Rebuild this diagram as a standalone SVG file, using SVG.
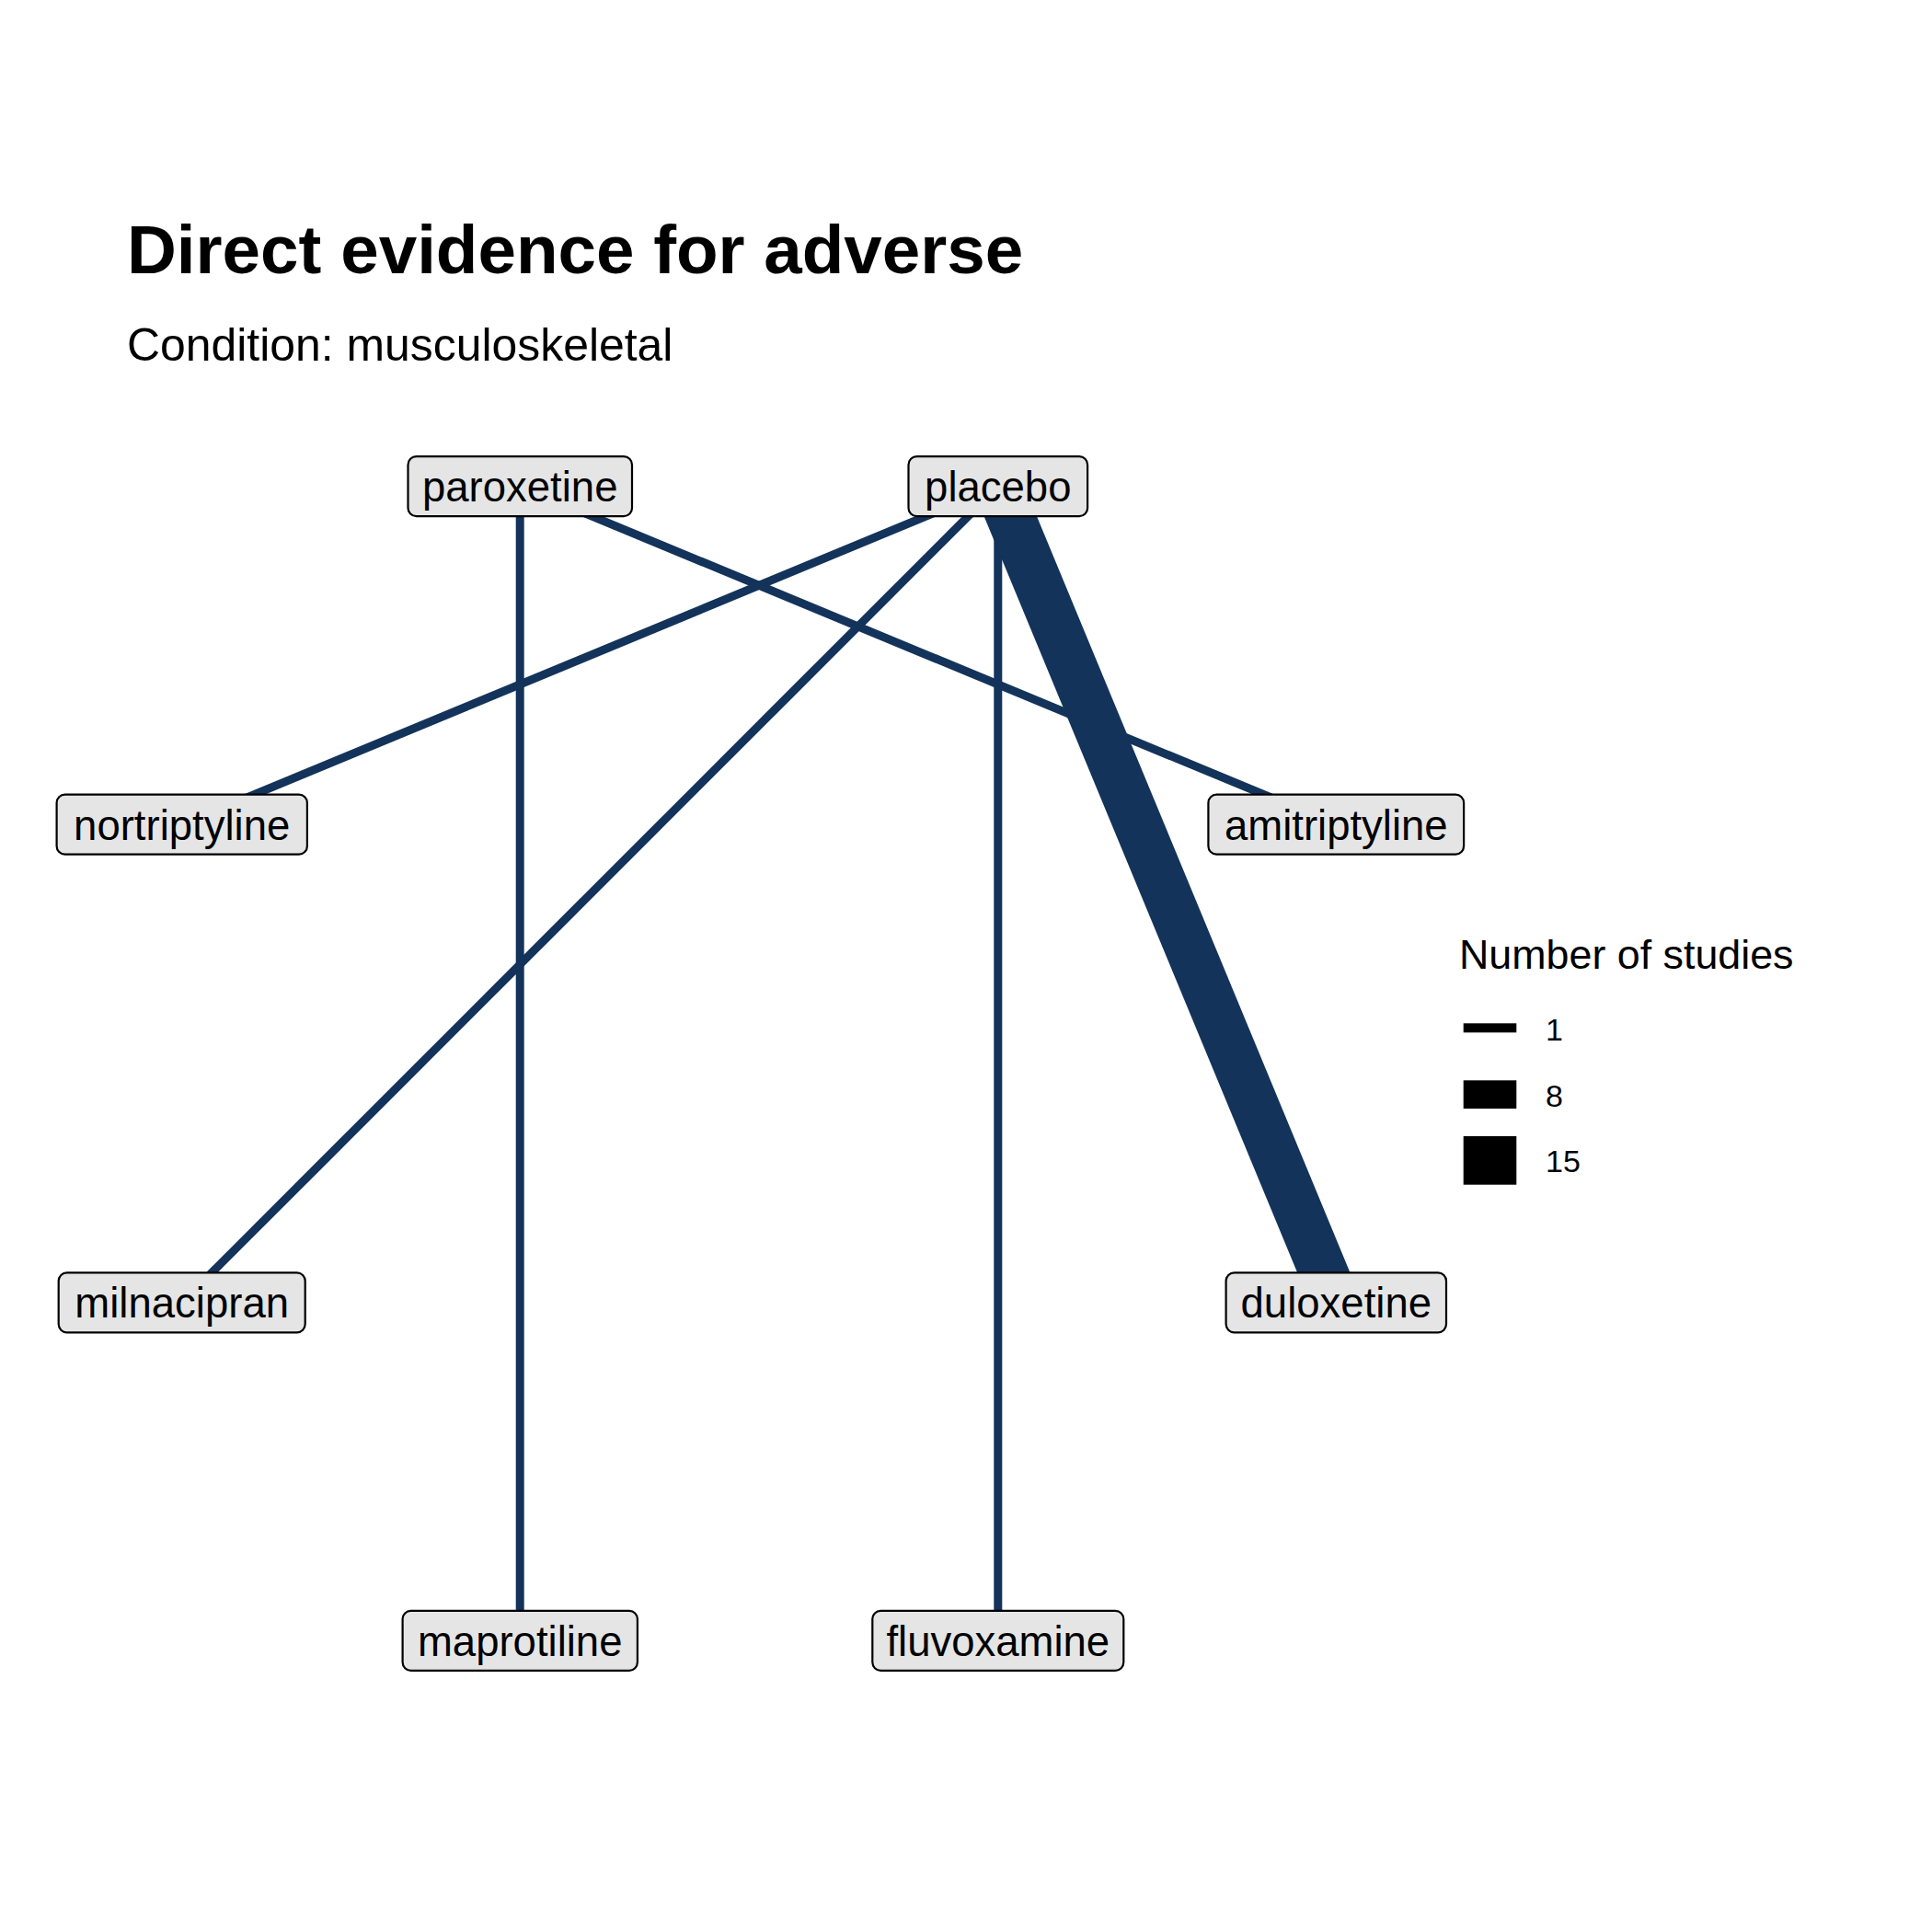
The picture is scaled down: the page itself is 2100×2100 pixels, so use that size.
<svg xmlns="http://www.w3.org/2000/svg" width="2100" height="2100" viewBox="0 0 2100 2100">
<style>
.edge{stroke:#13335a;fill:none;stroke-linecap:butt}
.box{fill:#e5e5e5;stroke:#000;stroke-width:2.2}
.lbl{font-family:"Liberation Sans",Arial,sans-serif;font-size:45.5px;fill:#000;text-anchor:middle}
.title{font-family:"Liberation Sans",Arial,sans-serif;font-size:74.6px;font-weight:bold;fill:#000}
.sub{font-family:"Liberation Sans",Arial,sans-serif;font-size:49.9px;fill:#000}
.legt{font-family:"Liberation Sans",Arial,sans-serif;font-size:44.8px;fill:#000}
.legl{font-family:"Liberation Sans",Arial,sans-serif;font-size:34px;fill:#000}
</style>
<rect width="2100" height="2100" fill="#fff"/>
<text class="title" x="138" y="297">Direct evidence for adverse</text>
<text class="sub" x="138" y="392">Condition: musculoskeletal</text>
<g id="connectors">
<line class="edge" stroke-width="9" x1="565.2" y1="528.7" x2="565.2" y2="1783.3"/>
<line class="edge" stroke-width="9" x1="565.2" y1="528.7" x2="1452.3" y2="896.2"/>
<line class="edge" stroke-width="9" x1="1084.8" y1="528.7" x2="197.7" y2="896.2"/>
<line class="edge" stroke-width="9" x1="1084.8" y1="528.7" x2="197.7" y2="1415.8"/>
<line class="edge" stroke-width="9" x1="1084.8" y1="528.7" x2="1084.8" y2="1783.3"/>
<line class="edge" stroke-width="53" x1="1084.8" y1="528.7" x2="1452.3" y2="1415.8"/>
</g>
<g id="node-paroxetine"><rect class="box" x="443.5" y="496.2" width="243.5" height="65" rx="9"/><text class="lbl" x="565.2" y="545">paroxetine</text></g>
<g id="node-placebo"><rect class="box" x="987.5" y="496.2" width="194.6" height="65" rx="9"/><text class="lbl" x="1084.8" y="545">placebo</text></g>
<g id="node-nortriptyline"><rect class="box" x="61.6" y="863.7" width="272.3" height="65" rx="9"/><text class="lbl" x="197.7" y="912.5">nortriptyline</text></g>
<g id="node-amitriptyline"><rect class="box" x="1313.4" y="863.7" width="277.7" height="65" rx="9"/><text class="lbl" x="1452.3" y="912.5">amitriptyline</text></g>
<g id="node-milnacipran"><rect class="box" x="63.7" y="1383.3" width="268" height="65" rx="9"/><text class="lbl" x="197.7" y="1432">milnacipran</text></g>
<g id="node-duloxetine"><rect class="box" x="1332.6" y="1383.3" width="239.4" height="65" rx="9"/><text class="lbl" x="1452.3" y="1432">duloxetine</text></g>
<g id="node-maprotiline"><rect class="box" x="437.6" y="1750.8" width="255.3" height="65" rx="9"/><text class="lbl" x="565.2" y="1799.5">maprotiline</text></g>
<g id="node-fluvoxamine"><rect class="box" x="948.3" y="1750.8" width="273" height="65" rx="9"/><text class="lbl" x="1084.8" y="1799.5">fluvoxamine</text></g>
<g id="legend">
<text class="legt" x="1586" y="1052.7">Number of studies</text>
<rect x="1590.7" y="1112.3" width="57.6" height="10" fill="#000"/>
<rect x="1590.7" y="1174.3" width="57.6" height="30.7" fill="#000"/>
<rect x="1590.7" y="1235" width="57.6" height="52.7" fill="#000"/>
<text class="legl" x="1680" y="1130.7">1</text>
<text class="legl" x="1680" y="1202.7">8</text>
<text class="legl" x="1680" y="1274">15</text>
</g>
</svg>
